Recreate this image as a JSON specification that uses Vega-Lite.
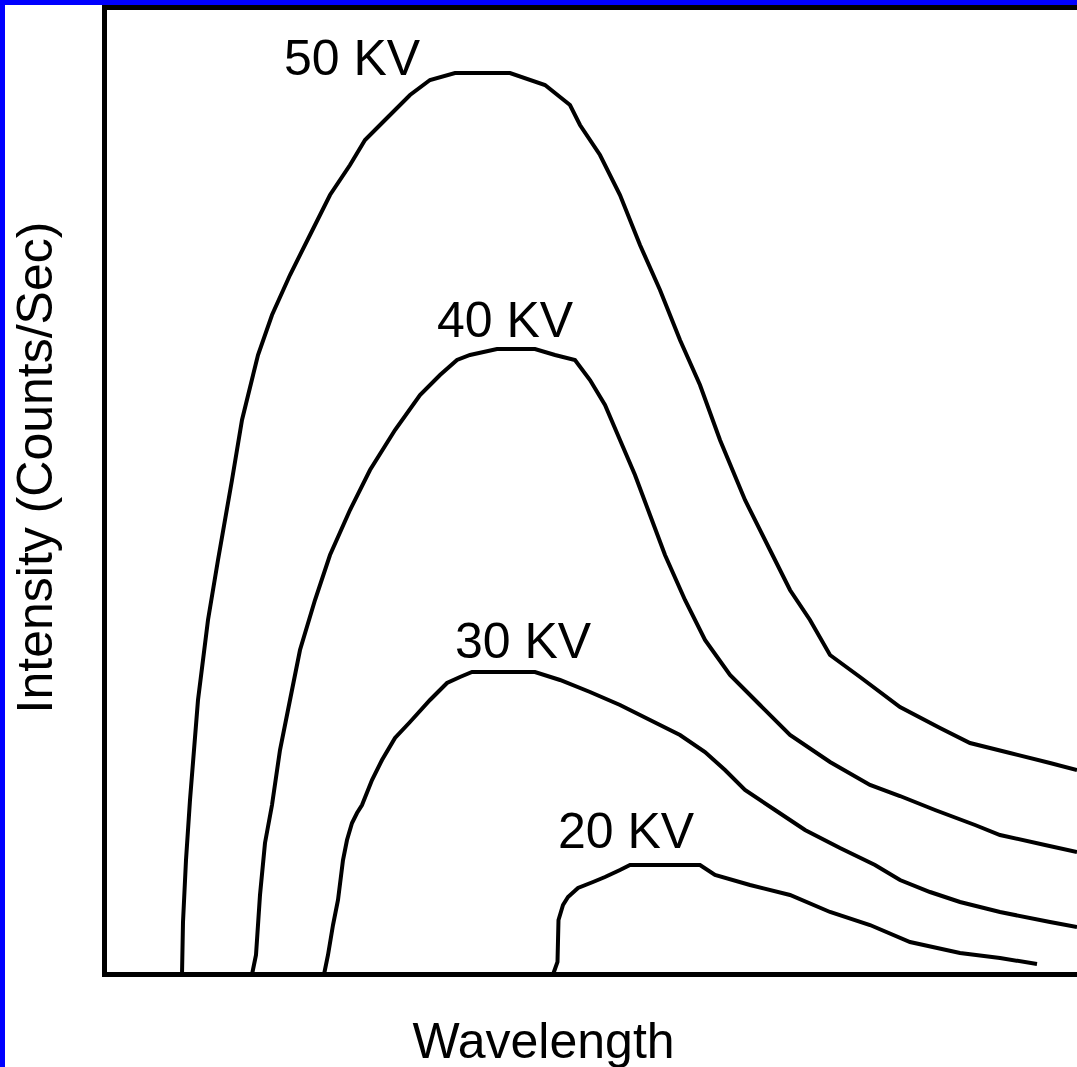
{
  "$schema": "https://vega.github.io/schema/vega-lite/v6.json",
  "width": 1072,
  "height": 1062,
  "autosize": {"type": "none"},
  "padding": {"left": 5, "top": 5, "right": 0, "bottom": 0},
  "background": "#0000ff",
  "config": {"view": {"fill": "white", "stroke": null}, "font": "Liberation Sans"},
  "datasets": {
    "curves": [
      {"kv": "50 KV", "wavelength": 7.75, "intensity": 0},
      {"kv": "50 KV", "wavelength": 7.85, "intensity": 5.25},
      {"kv": "50 KV", "wavelength": 8.15, "intensity": 11.45},
      {"kv": "50 KV", "wavelength": 8.55, "intensity": 17.45},
      {"kv": "50 KV", "wavelength": 9.35, "intensity": 27.45},
      {"kv": "50 KV", "wavelength": 10.35, "intensity": 35.45},
      {"kv": "50 KV", "wavelength": 11.35, "intensity": 41.45},
      {"kv": "50 KV", "wavelength": 12.75, "intensity": 49.45},
      {"kv": "50 KV", "wavelength": 13.75, "intensity": 55.45},
      {"kv": "50 KV", "wavelength": 15.35, "intensity": 61.95},
      {"kv": "50 KV", "wavelength": 16.75, "intensity": 65.95},
      {"kv": "50 KV", "wavelength": 18.55, "intensity": 69.95},
      {"kv": "50 KV", "wavelength": 20.55, "intensity": 73.95},
      {"kv": "50 KV", "wavelength": 22.55, "intensity": 77.95},
      {"kv": "50 KV", "wavelength": 24.55, "intensity": 80.95},
      {"kv": "50 KV", "wavelength": 26.05, "intensity": 83.45},
      {"kv": "50 KV", "wavelength": 28.05, "intensity": 85.45},
      {"kv": "50 KV", "wavelength": 30.55, "intensity": 87.95},
      {"kv": "50 KV", "wavelength": 32.55, "intensity": 89.45},
      {"kv": "50 KV", "wavelength": 35.05, "intensity": 90.15},
      {"kv": "50 KV", "wavelength": 40.55, "intensity": 90.15},
      {"kv": "50 KV", "wavelength": 44.05, "intensity": 88.95},
      {"kv": "50 KV", "wavelength": 46.55, "intensity": 86.95},
      {"kv": "50 KV", "wavelength": 47.55, "intensity": 84.95},
      {"kv": "50 KV", "wavelength": 49.55, "intensity": 81.95},
      {"kv": "50 KV", "wavelength": 51.55, "intensity": 77.95},
      {"kv": "50 KV", "wavelength": 53.55, "intensity": 72.95},
      {"kv": "50 KV", "wavelength": 55.55, "intensity": 68.45},
      {"kv": "50 KV", "wavelength": 57.55, "intensity": 63.45},
      {"kv": "50 KV", "wavelength": 59.55, "intensity": 58.95},
      {"kv": "50 KV", "wavelength": 61.55, "intensity": 53.45},
      {"kv": "50 KV", "wavelength": 64.05, "intensity": 47.45},
      {"kv": "50 KV", "wavelength": 66.55, "intensity": 42.45},
      {"kv": "50 KV", "wavelength": 68.55, "intensity": 38.45},
      {"kv": "50 KV", "wavelength": 70.55, "intensity": 35.45},
      {"kv": "50 KV", "wavelength": 72.55, "intensity": 31.95},
      {"kv": "50 KV", "wavelength": 75.55, "intensity": 29.75},
      {"kv": "50 KV", "wavelength": 79.55, "intensity": 26.75},
      {"kv": "50 KV", "wavelength": 83.55, "intensity": 24.65},
      {"kv": "50 KV", "wavelength": 86.55, "intensity": 23.15},
      {"kv": "50 KV", "wavelength": 90.55, "intensity": 22.15},
      {"kv": "50 KV", "wavelength": 94.55, "intensity": 21.15},
      {"kv": "50 KV", "wavelength": 97.25, "intensity": 20.45},

      {"kv": "40 KV", "wavelength": 14.75, "intensity": 0},
      {"kv": "40 KV", "wavelength": 15.15, "intensity": 1.95},
      {"kv": "40 KV", "wavelength": 15.55, "intensity": 7.95},
      {"kv": "40 KV", "wavelength": 16.05, "intensity": 13.15},
      {"kv": "40 KV", "wavelength": 16.75, "intensity": 16.95},
      {"kv": "40 KV", "wavelength": 17.55, "intensity": 22.45},
      {"kv": "40 KV", "wavelength": 18.55, "intensity": 27.45},
      {"kv": "40 KV", "wavelength": 19.55, "intensity": 32.45},
      {"kv": "40 KV", "wavelength": 21.05, "intensity": 37.45},
      {"kv": "40 KV", "wavelength": 22.55, "intensity": 41.95},
      {"kv": "40 KV", "wavelength": 24.55, "intensity": 46.45},
      {"kv": "40 KV", "wavelength": 26.55, "intensity": 50.45},
      {"kv": "40 KV", "wavelength": 29.05, "intensity": 54.45},
      {"kv": "40 KV", "wavelength": 31.55, "intensity": 57.95},
      {"kv": "40 KV", "wavelength": 33.55, "intensity": 59.95},
      {"kv": "40 KV", "wavelength": 35.25, "intensity": 61.45},
      {"kv": "40 KV", "wavelength": 36.55, "intensity": 61.95},
      {"kv": "40 KV", "wavelength": 39.25, "intensity": 62.55},
      {"kv": "40 KV", "wavelength": 43.05, "intensity": 62.55},
      {"kv": "40 KV", "wavelength": 45.05, "intensity": 61.95},
      {"kv": "40 KV", "wavelength": 47.05, "intensity": 61.45},
      {"kv": "40 KV", "wavelength": 48.55, "intensity": 59.45},
      {"kv": "40 KV", "wavelength": 50.05, "intensity": 56.95},
      {"kv": "40 KV", "wavelength": 51.55, "intensity": 53.45},
      {"kv": "40 KV", "wavelength": 53.05, "intensity": 49.95},
      {"kv": "40 KV", "wavelength": 54.55, "intensity": 45.95},
      {"kv": "40 KV", "wavelength": 56.05, "intensity": 41.95},
      {"kv": "40 KV", "wavelength": 58.05, "intensity": 37.45},
      {"kv": "40 KV", "wavelength": 60.05, "intensity": 33.45},
      {"kv": "40 KV", "wavelength": 62.55, "intensity": 29.95},
      {"kv": "40 KV", "wavelength": 65.55, "intensity": 26.95},
      {"kv": "40 KV", "wavelength": 68.55, "intensity": 23.95},
      {"kv": "40 KV", "wavelength": 72.55, "intensity": 21.25},
      {"kv": "40 KV", "wavelength": 76.55, "intensity": 18.95},
      {"kv": "40 KV", "wavelength": 79.55, "intensity": 17.85},
      {"kv": "40 KV", "wavelength": 83.05, "intensity": 16.45},
      {"kv": "40 KV", "wavelength": 87.05, "intensity": 14.95},
      {"kv": "40 KV", "wavelength": 89.55, "intensity": 13.95},
      {"kv": "40 KV", "wavelength": 94.05, "intensity": 12.95},
      {"kv": "40 KV", "wavelength": 97.25, "intensity": 12.25},

      {"kv": "30 KV", "wavelength": 21.95, "intensity": 0},
      {"kv": "30 KV", "wavelength": 22.35, "intensity": 1.95},
      {"kv": "30 KV", "wavelength": 22.85, "intensity": 4.95},
      {"kv": "30 KV", "wavelength": 23.35, "intensity": 7.45},
      {"kv": "30 KV", "wavelength": 23.85, "intensity": 11.45},
      {"kv": "30 KV", "wavelength": 24.25, "intensity": 13.45},
      {"kv": "30 KV", "wavelength": 24.75, "intensity": 15.15},
      {"kv": "30 KV", "wavelength": 25.25, "intensity": 16.15},
      {"kv": "30 KV", "wavelength": 25.75, "intensity": 16.95},
      {"kv": "30 KV", "wavelength": 26.75, "intensity": 19.45},
      {"kv": "30 KV", "wavelength": 27.75, "intensity": 21.45},
      {"kv": "30 KV", "wavelength": 29.05, "intensity": 23.65},
      {"kv": "30 KV", "wavelength": 30.55, "intensity": 25.25},
      {"kv": "30 KV", "wavelength": 32.55, "intensity": 27.45},
      {"kv": "30 KV", "wavelength": 34.25, "intensity": 29.15},
      {"kv": "30 KV", "wavelength": 35.55, "intensity": 29.75},
      {"kv": "30 KV", "wavelength": 36.75, "intensity": 30.25},
      {"kv": "30 KV", "wavelength": 43.05, "intensity": 30.25},
      {"kv": "30 KV", "wavelength": 45.55, "intensity": 29.45},
      {"kv": "30 KV", "wavelength": 48.55, "intensity": 28.25},
      {"kv": "30 KV", "wavelength": 51.55, "intensity": 26.95},
      {"kv": "30 KV", "wavelength": 54.55, "intensity": 25.45},
      {"kv": "30 KV", "wavelength": 57.55, "intensity": 23.95},
      {"kv": "30 KV", "wavelength": 60.05, "intensity": 22.25},
      {"kv": "30 KV", "wavelength": 62.05, "intensity": 20.45},
      {"kv": "30 KV", "wavelength": 64.05, "intensity": 18.45},
      {"kv": "30 KV", "wavelength": 67.05, "intensity": 16.45},
      {"kv": "30 KV", "wavelength": 70.05, "intensity": 14.45},
      {"kv": "30 KV", "wavelength": 73.55, "intensity": 12.65},
      {"kv": "30 KV", "wavelength": 77.05, "intensity": 10.95},
      {"kv": "30 KV", "wavelength": 79.55, "intensity": 9.45},
      {"kv": "30 KV", "wavelength": 82.55, "intensity": 8.25},
      {"kv": "30 KV", "wavelength": 85.55, "intensity": 7.25},
      {"kv": "30 KV", "wavelength": 89.55, "intensity": 6.25},
      {"kv": "30 KV", "wavelength": 94.55, "intensity": 5.25},
      {"kv": "30 KV", "wavelength": 97.25, "intensity": 4.75},

      {"kv": "20 KV", "wavelength": 44.85, "intensity": 0},
      {"kv": "20 KV", "wavelength": 45.3, "intensity": 1.25},
      {"kv": "20 KV", "wavelength": 45.4, "intensity": 5.45},
      {"kv": "20 KV", "wavelength": 45.85, "intensity": 6.95},
      {"kv": "20 KV", "wavelength": 46.35, "intensity": 7.75},
      {"kv": "20 KV", "wavelength": 47.35, "intensity": 8.65},
      {"kv": "20 KV", "wavelength": 48.85, "intensity": 9.25},
      {"kv": "20 KV", "wavelength": 50.05, "intensity": 9.75},
      {"kv": "20 KV", "wavelength": 51.55, "intensity": 10.45},
      {"kv": "20 KV", "wavelength": 52.55, "intensity": 10.95},
      {"kv": "20 KV", "wavelength": 59.55, "intensity": 10.95},
      {"kv": "20 KV", "wavelength": 61.05, "intensity": 9.95},
      {"kv": "20 KV", "wavelength": 64.55, "intensity": 8.95},
      {"kv": "20 KV", "wavelength": 68.55, "intensity": 7.95},
      {"kv": "20 KV", "wavelength": 72.55, "intensity": 6.25},
      {"kv": "20 KV", "wavelength": 76.55, "intensity": 4.95},
      {"kv": "20 KV", "wavelength": 80.55, "intensity": 3.25},
      {"kv": "20 KV", "wavelength": 85.55, "intensity": 2.15},
      {"kv": "20 KV", "wavelength": 89.55, "intensity": 1.65},
      {"kv": "20 KV", "wavelength": 93.25, "intensity": 1.05}
    ],
    "labels": [
      {"kv": "50 KV", "wavelength": 24.75, "intensity": 89.95},
      {"kv": "40 KV", "wavelength": 40.05, "intensity": 63.75},
      {"kv": "30 KV", "wavelength": 41.85, "intensity": 31.65},
      {"kv": "20 KV", "wavelength": 52.15, "intensity": 12.65}
    ],
    "frame": [{}]
  },
  "layer": [
    {
      "data": {"name": "curves"},
      "mark": {"type": "line", "color": "black", "strokeWidth": 4, "interpolate": "linear", "clip": true},
      "encoding": {
        "x": {"field": "wavelength", "type": "quantitative",
              "scale": {"domain": [-9.95, 97.25], "nice": false, "zero": false},
              "axis": {"title": "Wavelength", "domain": false, "ticks": false, "labels": false, "grid": false,
                       "titleFont": "Liberation Sans", "titleFontSize": 50, "titleFontWeight": "normal", "titleColor": "black",
                       "titleX": 538, "titleY": -10, "titleAlign": "center", "titleBaseline": "alphabetic", "titleAnchor": null}},
        "y": {"field": "intensity", "type": "quantitative",
              "scale": {"domain": [-9.25, 96.95], "nice": false, "zero": false},
              "axis": {"title": "Intensity (Counts/Sec)", "domain": false, "ticks": false, "labels": false, "grid": false,
                       "titleFont": "Liberation Sans", "titleFontSize": 50, "titleFontWeight": "normal", "titleColor": "black",
                       "titleX": 46, "titleY": 462, "titleAngle": -90, "titleAlign": "center", "titleBaseline": "alphabetic", "titleAnchor": null}},
        "detail": {"field": "kv", "type": "nominal"}
      }
    },
    {
      "data": {"name": "labels"},
      "mark": {"type": "text", "font": "Liberation Sans", "fontSize": 50, "color": "black", "align": "center", "baseline": "alphabetic"},
      "encoding": {
        "x": {"field": "wavelength", "type": "quantitative"},
        "y": {"field": "intensity", "type": "quantitative"},
        "text": {"field": "kv", "type": "nominal"}
      }
    },
    {
      "data": {"name": "frame"},
      "mark": {"type": "rule", "color": "black", "strokeWidth": 5},
      "encoding": {
        "x": {"datum": 0, "type": "quantitative"},
        "y": {"datum": -0.25, "type": "quantitative"},
        "y2": {"datum": 96.95}
      }
    },
    {
      "data": {"name": "frame"},
      "mark": {"type": "rule", "color": "black", "strokeWidth": 5},
      "encoding": {
        "x": {"datum": -0.25, "type": "quantitative"},
        "x2": {"datum": 97.25},
        "y": {"datum": 0, "type": "quantitative"}
      }
    },
    {
      "data": {"name": "frame"},
      "mark": {"type": "rule", "color": "black", "strokeWidth": 5},
      "encoding": {
        "x": {"datum": -0.25, "type": "quantitative"},
        "x2": {"datum": 97.25},
        "y": {"datum": 96.7, "type": "quantitative"}
      }
    }
  ]
}
